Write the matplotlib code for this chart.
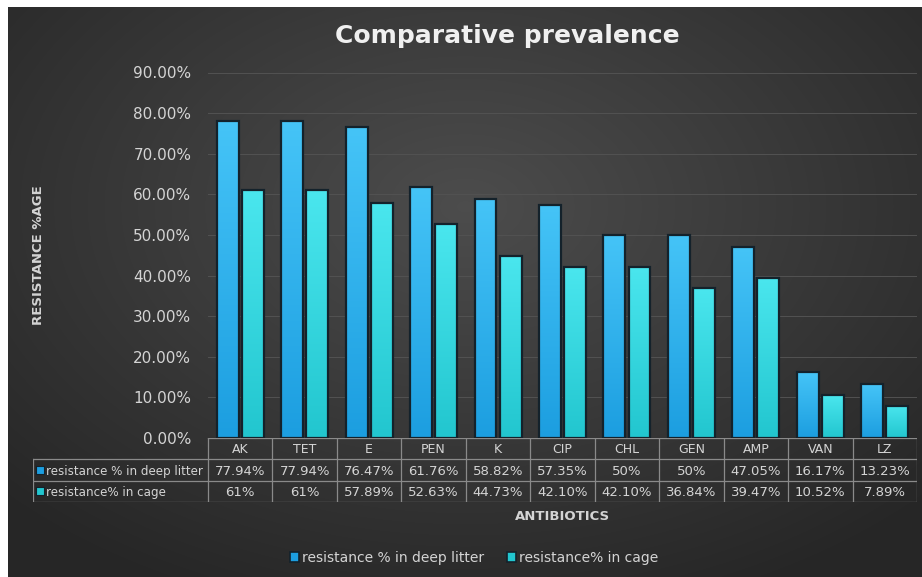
import numpy as np
import matplotlib.pyplot as plt
from matplotlib.patches import Rectangle

# data
antibiotics = ['AK', 'TET', 'E', 'PEN', 'K', 'CIP', 'CHL', 'GEN', 'AMP', 'VAN', 'LZ']
deep_litter = [77.94, 77.94, 76.47, 61.76, 58.82, 57.35, 50, 50, 47.05, 16.17, 13.23]
cage = [61, 61, 57.89, 52.63, 44.73, 42.10, 42.10, 36.84, 39.47, 10.52, 7.89]
deep_labels = ['77.94%', '77.94%', '76.47%', '61.76%', '58.82%', '57.35%', '50%', '50%',
               '47.05%', '16.17%', '13.23%']
cage_labels = ['61%', '61%', '57.89%', '52.63%', '44.73%', '42.10%', '42.10%', '36.84%',
               '39.47%', '10.52%', '7.89%']
series_names = ['resistance % in deep litter', 'resistance% in cage']
yticks = [0, 10, 20, 30, 40, 50, 60, 70, 80, 90]

W, H = 922, 577
plt.rcParams['font.family'] = ['DejaVu Sans']
txt_col = '#d4d4d4'
deep_col = ('#45c4f7', '#1c9ee0')   # top, bottom
cage_col = ('#4ae6ee', '#22c6cf')
edge_col = '#14222b'
grid_col = '#525252'
table_col = '#8a8a8a'

fig = plt.figure(figsize=(W / 100, H / 100), dpi=100, facecolor='white')


def fx(px):
    return px / W


def fy(py):
    return 1 - py / H


# background with radial gradient (white strip on top and left)
bg = fig.add_axes([fx(8), 0, fx(W - 8), fy(7)])
yy, xx = np.mgrid[0:1:300j, 0:1:480j]
r = np.sqrt(((xx - 0.5) / 0.75) ** 2 + ((yy - 0.35) / 0.8) ** 2)
g = np.clip(0.30 - 0.16 * r, 0.15, 0.32)
bg.imshow(np.dstack([g, g, g]), aspect='auto', extent=[0, 1, 1, 0], interpolation='bilinear')
bg.set_axis_off()

# main plot area
left, right, top, bottom = 208, 917, 72.5, 438
ax = fig.add_axes([fx(left), fy(bottom), fx(right - left), (bottom - top) / H])
ax.set_facecolor('none')
ax.set_xlim(-0.5, len(antibiotics) - 0.5)
ax.set_ylim(0, 90)
ax.set_yticks(yticks)
ax.set_yticklabels([f'{t:.2f}%' for t in yticks], color=txt_col, fontsize=11)
ax.tick_params(axis='y', length=0, pad=12)
ax.set_xticks([])
for s in ax.spines.values():
    s.set_visible(False)
ax.grid(axis='y', color=grid_col, lw=0.7)
ax.set_axisbelow(True)

x = np.arange(len(antibiotics))
bw, off = 0.34, 0.195


def grad_bars(xs, vals, cols):
    bars = ax.bar(xs, vals, bw, facecolor='none', edgecolor=edge_col, lw=1.6, zorder=3)
    grad = np.linspace(0, 1, 100).reshape(-1, 1)
    c1 = np.array(plt.matplotlib.colors.to_rgb(cols[0]))
    c2 = np.array(plt.matplotlib.colors.to_rgb(cols[1]))
    img = (c1[None, None, :] * (1 - grad[:, :, None]) + c2[None, None, :] * grad[:, :, None])
    for b in bars:
        bx, by = b.get_x(), b.get_y()
        w, h = b.get_width(), b.get_height()
        im = ax.imshow(img, extent=[bx, bx + w, by, by + h], aspect='auto', zorder=2,
                       origin='upper')
        im.set_clip_path(b)
    return bars


grad_bars(x - off, deep_litter, deep_col)
grad_bars(x + off, cage, cage_col)

# y label
fig.text(fx(38), fy(255), 'RESISTANCE %AGE', rotation=90, color=txt_col,
         fontsize=9.5, fontweight='bold', ha='center', va='center')

# title
fig.text(fx(507), fy(36), 'Comparative prevalence', color='#f0f0f0', fontsize=18,
         fontweight='bold', ha='center', va='center')

# data table
t_left, t_bottom = 33, 502
colw = (right - left) / len(antibiotics)
lab_w = (left - t_left) / colw
tab = fig.add_axes([fx(t_left), fy(t_bottom), fx(right - t_left), (t_bottom - bottom) / H])
tab.set_axis_off()
x0 = -0.5 - lab_w
tab.set_xlim(x0, len(antibiotics) - 0.5)
tab.set_ylim(3, 0)
lk = dict(color=table_col, lw=0.9)
# horizontal lines
tab.plot([-0.5, len(antibiotics) - 0.5], [0, 0], **lk)
for yv in (1, 2, 3):
    tab.plot([x0, len(antibiotics) - 0.5], [yv, yv], **lk)
# vertical lines
tab.plot([x0, x0], [1, 3], **lk)
for xv in np.arange(-0.5, len(antibiotics), 1.0):
    tab.plot([xv, xv], [0, 3], **lk)
for i, name in enumerate(antibiotics):
    tab.text(i, 0.55, name, color=txt_col, fontsize=9, ha='center', va='center')
    tab.text(i, 1.55, deep_labels[i], color=txt_col, fontsize=9.5, ha='center', va='center')
    tab.text(i, 2.55, cage_labels[i], color=txt_col, fontsize=9.5, ha='center', va='center')
for row, (name, col) in enumerate(zip(series_names, (deep_col, cage_col))):
    tab.scatter([x0 + 0.11], [row + 1.5], marker='s', s=34, color=col[1],
                edgecolor=edge_col, lw=0.8, clip_on=False)
    tab.text(x0 + 0.2, row + 1.55, name, color=txt_col, fontsize=8.6, ha='left',
             va='center')

# x label
fig.text(fx(562), fy(517), 'ANTIBIOTICS', color=txt_col, fontsize=9.5,
         fontweight='bold', ha='center', va='center')

# legend
handles = [Rectangle((0, 0), 1, 1, facecolor=c[1], edgecolor=edge_col, lw=1.2)
           for c in (deep_col, cage_col)]
leg = fig.legend(handles, series_names, loc='center', bbox_to_anchor=(fx(474), fy(558)),
                 ncol=2, frameon=False, fontsize=10, labelcolor=txt_col,
                 handlelength=0.7, handleheight=0.7, handletextpad=0.2, columnspacing=1.6)

fig.savefig('out.png', dpi=100, facecolor='white')
